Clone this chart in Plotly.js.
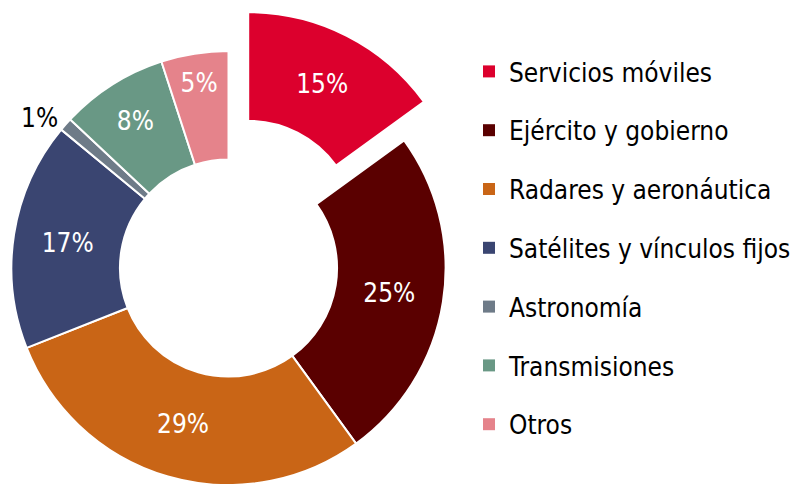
<!DOCTYPE html>
<html>
<head>
<meta charset="utf-8">
<script src="https://cdn.plot.ly/plotly-3.0.1.min.js"></script>
<style>
  html, body { margin: 0; padding: 0; overflow: hidden; background: #fff; }
  #chart { position: absolute; left: -32px; top: -2px; }
</style>
</head>
<body>
<div id="chart"></div>
<script>
// Spectrum use by sector (%)
const labels = ['Servicios móviles', 'Ejército y gobierno', 'Radares y aeronáutica',
  'Satélites y vínculos fijos', 'Astronomía', 'Transmisiones', 'Otros'];
const values = [15, 25, 29, 17, 1, 8, 5];
const colors = ['#DC002D', '#5A0000', '#C96516', '#3A4571', '#6E7B88', '#699885', '#E5838B'];
const pulls = [0.2, 0, 0, 0, 0, 0, 0];

const FONT = '"Liberation Sans Narrow", "Arial Narrow", "DejaVu Sans Condensed", sans-serif';

// the figure is a bit bigger than the window so the pulled pie can be full size
const W = 880, H = 540;

const pie = {
  type: 'pie',
  labels: labels,
  values: values,
  sort: false,
  direction: 'clockwise',
  rotation: 0,
  hole: 0.5,
  pull: pulls,
  marker: { colors: colors, line: { color: '#ffffff', width: 2 } },
  texttemplate: '%{value}%',
  textposition: values.map(v => v < 3 ? 'outside' : 'inside'),
  insidetextorientation: 'horizontal',
  insidetextfont: { color: '#ffffff', size: 26, family: FONT },
  outsidetextfont: { color: '#000000', size: 26, family: FONT },
  domain: { x: [0, 521 / W], y: [0, 1] },
  hoverinfo: 'label+percent',
  showlegend: false
};

// legend entries, one group each so the rows can be spaced out
const legendTraces = labels.map((lab, i) => ({
  type: 'scatter',
  mode: 'markers',
  x: [null],
  y: [null],
  name: lab,
  legendgroup: 'g' + i,
  marker: { symbol: 'square', size: 12, color: colors[i] },
  hoverinfo: 'skip'
}));

const layout = {
  width: W,
  height: H,
  margin: { l: 0, r: 0, t: 0, b: 0 },
  paper_bgcolor: '#ffffff',
  plot_bgcolor: '#ffffff',
  font: { family: FONT, color: '#000000' },
  xaxis: { visible: false },
  yaxis: { visible: false },
  showlegend: true,
  legend: {
    x: 501 / W,
    xanchor: 'left',
    y: 1 - 250 / H,
    yanchor: 'middle',
    tracegroupgap: 22,
    font: { size: 26, family: FONT, color: '#000000' },
    bgcolor: 'rgba(0,0,0,0)'
  }
};

Plotly.newPlot('chart', [pie].concat(legendTraces), layout, { displayModeBar: false });
</script>
</body>
</html>
